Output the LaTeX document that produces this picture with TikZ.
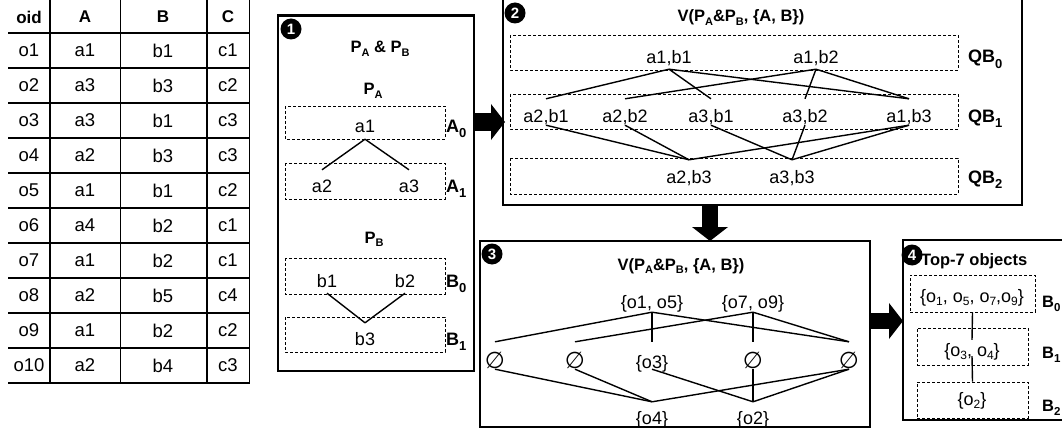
\documentclass[tikz,border=0pt]{standalone}
\usepackage{fontspec}
\setmainfont{Liberation Sans}
\newfontfamily\djv{DejaVu Sans}
\usetikzlibrary{arrows.meta}
\newcommand\sbs[1]{\raisebox{-0.45ex}{\fontsize{11}{11}\selectfont #1}}
\newcommand\lsb[1]{\raisebox{-0.55ex}{\fontsize{13}{13}\selectfont #1}}
\newcommand\ssb[1]{\raisebox{-0.55ex}{\fontsize{11.5}{11.5}\selectfont #1}}
\newcommand\sbn[1]{\raisebox{-0.4ex}{\fontsize{12}{12}\selectfont #1}}
\begin{document}
\begin{tikzpicture}[x=1pt,y=-1pt,
  nd/.style={inner sep=0pt, anchor=base, font=\fontsize{18}{18}\selectfont},
  tc/.style={inner sep=0pt, font=\fontsize{18.5}{18.5}\selectfont},
  th/.style={inner sep=0pt, font=\fontsize{17}{17}\selectfont\bfseries},
  ttl/.style={inner sep=0pt, anchor=base, font=\fontsize{16.5}{16.5}\selectfont\bfseries},
  lbl/.style={inner sep=0pt, anchor=base west, font=\fontsize{18}{18}\selectfont\bfseries},
  slbl/.style={inner sep=0pt, anchor=base west, font=\fontsize{16.5}{16.5}\selectfont\bfseries},
  lvl/.style={draw, dash pattern=on 3pt off 2pt, line width=0.9pt},
  lvlbox/.style={draw, dash pattern=on 3pt off 2pt, line width=0.9pt, inner sep=0pt},
  edge/.style={line width=1.4pt},
  panel/.style={draw, line width=1.6pt, inner sep=0pt},
  bullet/.style={circle, fill=black, text=white, inner sep=0pt, minimum size=21pt,
                 font=\fontsize{15}{15}\selectfont\bfseries},
  emp/.style={nd, font=\fontsize{23}{23}\selectfont\djv, text height=26pt, text depth=1pt},
  blk/.style={-{Triangle[length=14pt,width=36pt,line width=0pt]}}
]
\useasboundingbox (0,0) rectangle (1062,441);

% ---------------- table ----------------
\foreach \k in {0,...,10}
  \draw[line width=1.8pt] (8,{33+35*\k}) -- (250,{33+35*\k});
\foreach \x in {50,120.5,207,249.5}
  \draw[line width=1.1pt] (\x,0) -- (\x,383);
\node[th] (hoid) at (29,17) {oid};
\node[th] (hA) at (85,17) {A};
\node[th] (hB) at (163,17) {B};
\node[th] (hC) at (228,17) {C};
\foreach \o/\a/\b/\c [count=\i] in {o1/a1/b1/c1, o2/a3/b3/c2, o3/a3/b1/c3, o4/a2/b3/c3,
   o5/a1/b1/c2, o6/a4/b2/c1, o7/a1/b2/c1, o8/a2/b5/c4, o9/a1/b2/c2, o10/a2/b4/c3}{
  \node[tc] (ro\i) at (29,{50.5+35*(\i-1)}) {\o};
  \node[tc] (ra\i) at (85,{50.5+35*(\i-1)}) {\a};
  \node[tc] (rb\i) at (163,{50.5+35*(\i-1)}) {\b};
  \node[tc] (rc\i) at (228,{50.5+35*(\i-1)}) {\c};
}

% ---------------- panel 1 ----------------
\node[panel, minimum width=196pt, minimum height=355pt] (p1) at (376,193.5) {};
\draw[line width=2.6pt] (p1.north west) -- (p1.north east);
\node[bullet] (n1) at (291,29) {1};
\node[ttl] (t1a) at (380,53) {P\sbs{A} \& P\sbs{B}};
\node[ttl] (t1b) at (373,95) {P\sbs{A}};
\node[ttl] (t1c) at (374,243) {P\sbs{B}};
\draw[lvl] (285,106) rectangle (445,139);
\draw[lvl] (285,163) rectangle (445,199);
\draw[lvl] (285,258) rectangle (445,294);
\draw[lvl] (285,317) rectangle (445,352);
\node[lbl] (lA0) at (446,132) {A\lsb{0}};
\node[lbl] (lA1) at (446,192) {A\lsb{1}};
\node[lbl] (lB0) at (446,287) {B\lsb{0}};
\node[lbl] (lB1) at (446,345) {B\lsb{1}};
\node[nd, text depth=7pt] (a1) at (365,132) {a1};
\node[nd, text height=22pt] (a2) at (322,192) {a2};
\node[nd, text height=22pt] (a3) at (409,192) {a3};
\node[nd, text depth=6pt] (b1) at (327,287) {b1};
\node[nd, text depth=6pt] (b2) at (405,287) {b2};
\node[nd, text height=22pt] (b3) at (365,345) {b3};
\draw[edge] (a1.south) -- (a2.north);
\draw[edge] (a1.south) -- (a3.north);
\draw[edge] (b1.south) -- (b3.north);
\draw[edge] (b2.south) -- (b3.north);

% ---------------- panel 2 ----------------
\node[panel, minimum width=519pt, minimum height=210pt] (p2) at (762.5,100) {};
\node[bullet] (n2) at (515,13) {2};
\node[ttl] (t2) at (741,22) {V(P\sbs{A}\&P\sbs{B}, \{A, B\})};
\draw[lvl] (510,35) rectangle (958,70);
\draw[lvl] (510,94) rectangle (958,129);
\draw[lvl] (510,158) rectangle (958,194);
\node[lbl] (lQ0) at (968,63) {QB\lsb{0}};
\node[lbl] (lQ1) at (968,122) {QB\lsb{1}};
\node[lbl] (lQ2) at (968,183) {QB\lsb{2}};
\node[nd, text depth=5pt] (ab11) at (669,64) {a1,b1};
\node[nd, text depth=5pt] (ab12) at (816,64) {a1,b2};
\node[nd, text height=23pt, text depth=3pt] (ab21) at (546,122) {a2,b1};
\node[nd, text height=23pt, text depth=3pt] (ab22) at (625,122) {a2,b2};
\node[nd, text height=23pt, text depth=3pt] (ab31) at (711,122) {a3,b1};
\node[nd, text height=23pt, text depth=3pt] (ab32) at (805,122) {a3,b2};
\node[nd, text height=23pt, text depth=3pt] (ab13) at (909,122) {a1,b3};
\node[nd, text height=23pt] (ab23) at (689,183) {a2,b3};
\node[nd, text height=23pt] (ab33) at (792,183) {a3,b3};
\foreach \u/\v in {ab11/ab21, ab11/ab31, ab11/ab13, ab12/ab22, ab12/ab32, ab12/ab13,
                   ab21/ab23, ab22/ab23, ab13/ab23, ab31/ab33, ab32/ab33, ab13/ab33}
  \draw[edge] (\u.south) -- (\v.north);

% ---------------- panel 3 ----------------
\node[panel, minimum width=390pt, minimum height=186pt] (p3) at (675,334) {};
\node[bullet] (n3) at (492,254) {3};
\node[ttl] (t3) at (681,270) {V(P\sbs{A}\&P\sbs{B}, \{A, B\})};
\node[nd, text depth=4pt] (s15) at (652,308) {\{o1, o5\}};
\node[nd, text depth=4pt] (s79) at (753,308) {\{o7, o9\}};
\node[emp] (e1) at (495,368) {∅};
\node[emp] (e2) at (575,368) {∅};
\node[nd, text height=26pt, text depth=1pt] (s3) at (652,368) {\{o3\}};
\node[emp] (e4) at (753,368) {∅};
\node[emp] (e5) at (849,368) {∅};
\node[nd, text height=22pt] (s4) at (652,424) {\{o4\}};
\node[nd, text height=22pt] (s2) at (753,424) {\{o2\}};
\foreach \u/\v in {s15/e1, s15/s3, s15/e5, s79/e2, s79/e4, s79/e5,
                   e1/s4, e2/s4, e5/s4, s3/s2, e4/s2, e5/s2}
  \draw[edge] (\u.south) -- (\v.north);

% ---------------- panel 4 ----------------
\node[panel, minimum width=170pt, minimum height=180pt] (p4) at (988,330) {};
\node[bullet] (n4) at (912,255) {4};
\node[ttl, anchor=base west] (t4) at (921,265) {Top-7 objects};
\node[lvlbox, minimum width=125pt, minimum height=37pt] (d0) at (972.5,293.5) {};
\node[lvlbox, minimum width=111pt, minimum height=37pt] (d1) at (972.5,346.5) {};
\node[lvlbox, minimum width=111pt, minimum height=36pt] (d2) at (972.5,400) {};
\node[slbl] (lb0) at (1042,307) {B\ssb{0}};
\node[slbl] (lb1) at (1042,358) {B\ssb{1}};
\node[slbl] (lb2) at (1042,411) {B\ssb{2}};
\node[nd] (q0) at (972,302) {\{o\sbn{1}, o\sbn{5}, o\sbn{7},o\sbn{9}\}};
\node[nd, text height=16pt, text depth=0pt] (q1) at (972,356) {\{o\sbn{3}, o\sbn{4}\}};
\node[nd] (q2) at (972,405) {\{o\sbn{2}\}};
\draw[edge] (d0.south) -- (q1.north);
\draw[edge] (q1.south) -- (d2.north);

% ---------------- block arrows ----------------
\coordinate (f12) at (474,122);
\coordinate (g12) at (505,122);
\coordinate (f23) at (710,206);
\coordinate (g23) at (710,241);
\coordinate (f34) at (869,321);
\coordinate (g34) at (903,321);
\draw[blk, line width=18pt] (f12) -- (g12);
\draw[blk, line width=16pt] (f23) -- (g23);
\draw[blk, line width=16pt] (f34) -- (g34);
\end{tikzpicture}
\end{document}
